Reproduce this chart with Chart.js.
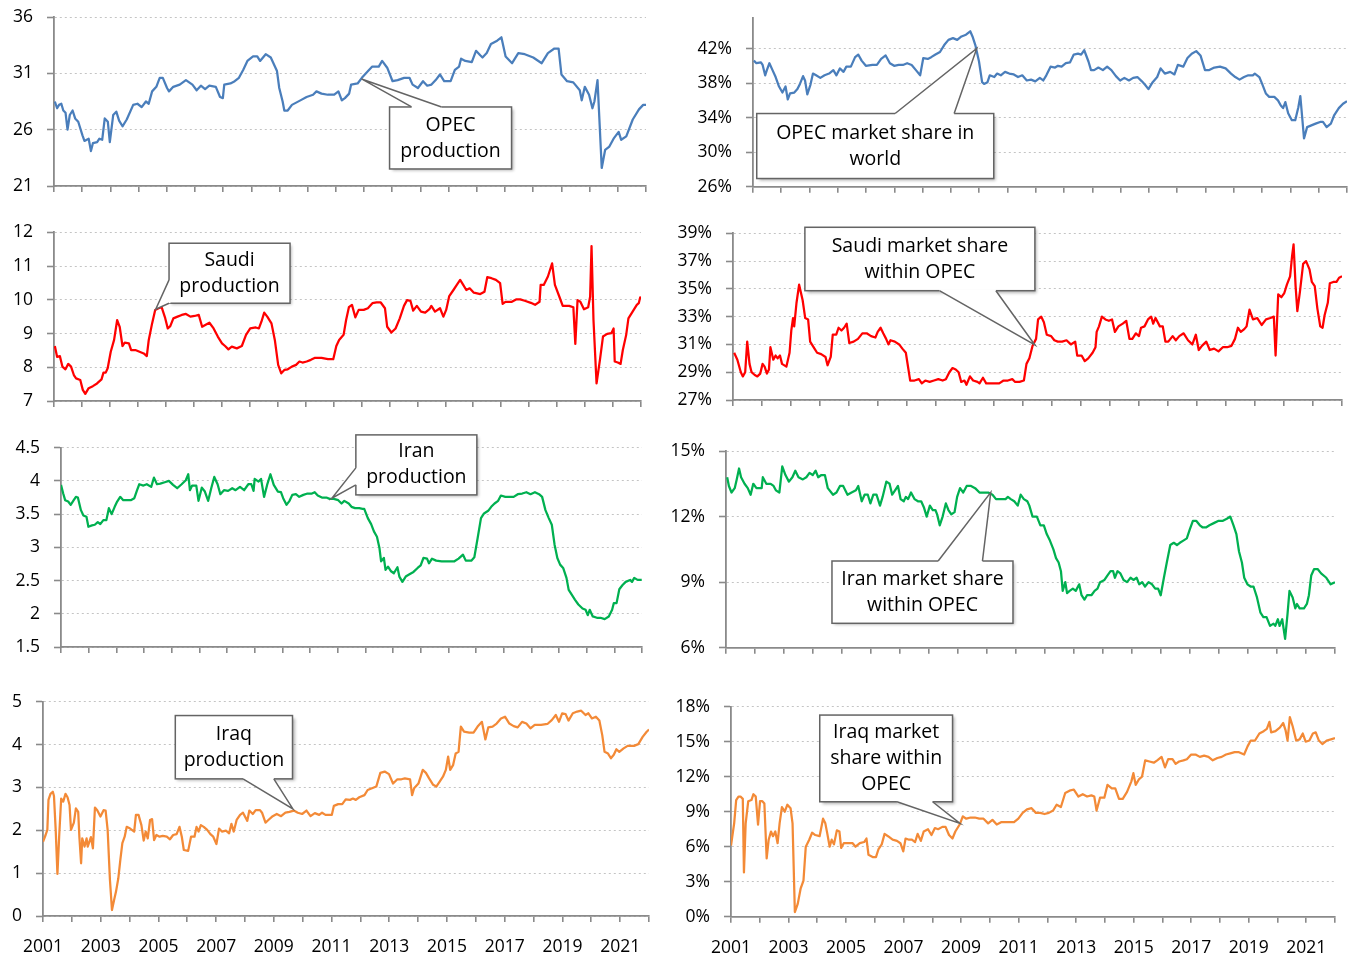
<!DOCTYPE html>
<html>
<head>
<meta charset="utf-8">
<script src="https://cdn.jsdelivr.net/npm/chart.js@4.4.0/dist/chart.umd.min.js"></script>
<style>
  html, body { margin: 0; padding: 0; background: #fff; }
  body { width: 1357px; height: 958px; position: relative; overflow: hidden; }
  canvas { position: absolute; }
</style>
</head>
<body>
<script>
// ---- shared axis data ----
const yearTicks = [2001, 2002, 2003, 2004, 2005, 2006, 2007, 2008, 2009, 2010, 2011,
  2012, 2013, 2014, 2015, 2016, 2017, 2018, 2019, 2020, 2021, 2022];
const xLabelYears = [2001, 2003, 2005, 2007, 2009, 2011, 2013, 2015, 2017, 2019, 2021];

// ---- OPEC production (mb/d) ----
const opecProdTicks = [21, 26, 31, 36];
const opecProdYears = [
  2001.03, 2001.11, 2001.18, 2001.26, 2001.33, 2001.41, 2001.48, 2001.56, 2001.66, 2001.75,
  2001.86, 2002.01, 2002.08, 2002.23, 2002.31, 2002.38, 2002.53, 2002.61, 2002.71, 2002.80,
  2002.91, 2002.98, 2003.10, 2003.21, 2003.31, 2003.43, 2003.58, 2003.81, 2003.96, 2004.11,
  2004.26, 2004.36, 2004.48, 2004.63, 2004.75, 2004.86, 2005.01, 2005.08, 2005.23, 2005.46,
  2005.68, 2005.91, 2006.06, 2006.21, 2006.36, 2006.51, 2006.74, 2006.89, 2006.99, 2007.04,
  2007.26, 2007.41, 2007.56, 2007.71, 2007.86, 2008.06, 2008.21, 2008.31, 2008.51, 2008.69,
  2008.91, 2008.99, 2009.11, 2009.17, 2009.29, 2009.44, 2009.74, 2009.96, 2010.19, 2010.31,
  2010.49, 2010.71, 2010.94, 2011.09, 2011.21, 2011.32, 2011.47, 2011.54, 2011.77, 2011.92,
  2012.14, 2012.29, 2012.52, 2012.64, 2012.82, 2013.01, 2013.19, 2013.42, 2013.61, 2013.72,
  2013.91, 2014.09, 2014.24, 2014.39, 2014.54, 2014.69, 2014.84, 2015.07, 2015.22, 2015.37,
  2015.44, 2015.59, 2015.82, 2015.97, 2016.12, 2016.20, 2016.35, 2016.50, 2016.72, 2016.87,
  2017.02, 2017.25, 2017.47, 2017.70, 2018.00, 2018.30, 2018.52, 2018.75, 2018.90, 2019.00,
  2019.20, 2019.42, 2019.65, 2019.72, 2019.83, 2019.98, 2020.10, 2020.17, 2020.28, 2020.43,
  2020.55, 2020.70, 2020.85, 2021.03, 2021.12, 2021.30, 2021.53, 2021.75, 2021.90, 2022.00];
const opecProdValues = [
  28.5, 27.9, 28.2, 28.3, 27.7, 27.5, 26.0, 27.3, 27.7, 27.0,
  26.7, 25.5, 25.0, 25.2, 24.1, 24.8, 24.9, 25.2, 25.1, 27.0,
  26.7, 24.9, 27.3, 27.6, 26.8, 26.3, 26.9, 28.2, 28.3, 28.0,
  28.5, 28.3, 29.4, 29.8, 30.6, 30.6, 29.7, 29.4, 29.8, 30.0,
  30.4, 30.0, 29.5, 29.9, 29.6, 29.9, 29.8, 28.9, 28.8, 30.0,
  30.1, 30.3, 30.6, 31.3, 32.1, 32.5, 32.5, 32.1, 32.7, 32.4,
  31.2, 29.7, 28.5, 27.7, 27.7, 28.2, 28.6, 28.9, 29.1, 29.4,
  29.2, 29.1, 29.1, 29.4, 28.6, 28.8, 29.2, 30.0, 30.1, 30.6,
  31.2, 31.6, 31.6, 32.1, 31.5, 30.3, 30.4, 30.6, 30.6, 30.0,
  29.7, 30.3, 29.9, 30.0, 30.4, 30.9, 30.3, 30.3, 31.3, 31.6,
  32.3, 32.1, 32.0, 33.0, 32.6, 32.4, 32.8, 33.6, 33.9, 34.2,
  32.5, 31.9, 32.8, 32.7, 32.4, 31.9, 32.8, 33.2, 33.2, 30.9,
  30.3, 30.2, 29.5, 28.6, 29.8, 29.1, 27.9, 28.5, 30.4, 22.6,
  24.2, 24.5, 25.2, 25.8, 25.1, 25.4, 26.9, 27.8, 28.2, 28.2];

// ---- OPEC market share in world (%) ----
const opecShareTicks = [26, 30, 34, 38, 42];
const opecShareYears = [
  2001.03, 2001.12, 2001.28, 2001.34, 2001.43, 2001.49, 2001.58, 2001.69, 2001.80, 2001.92,
  2002.04, 2002.15, 2002.23, 2002.31, 2002.46, 2002.57, 2002.66, 2002.77, 2002.84, 2002.92,
  2003.03, 2003.12, 2003.23, 2003.38, 2003.53, 2003.69, 2003.84, 2003.95, 2004.07, 2004.20,
  2004.30, 2004.46, 2004.61, 2004.72, 2004.84, 2004.99, 2005.22, 2005.38, 2005.53, 2005.69,
  2005.84, 2005.99, 2006.15, 2006.30, 2006.45, 2006.61, 2006.76, 2006.91, 2007.02, 2007.18,
  2007.30, 2007.45, 2007.61, 2007.76, 2007.91, 2008.07, 2008.22, 2008.37, 2008.53, 2008.68,
  2008.76, 2008.86, 2008.99, 2009.10, 2009.17, 2009.29, 2009.37, 2009.53, 2009.63, 2009.76,
  2009.91, 2010.06, 2010.22, 2010.37, 2010.52, 2010.68, 2010.83, 2010.98, 2011.14, 2011.26,
  2011.37, 2011.52, 2011.68, 2011.78, 2011.91, 2012.06, 2012.21, 2012.34, 2012.49, 2012.60,
  2012.71, 2012.86, 2012.95, 2013.06, 2013.21, 2013.37, 2013.52, 2013.67, 2013.83, 2013.98,
  2014.13, 2014.29, 2014.44, 2014.59, 2014.75, 2014.86, 2014.98, 2015.13, 2015.29, 2015.41,
  2015.56, 2015.75, 2015.90, 2016.02, 2016.21, 2016.36, 2016.51, 2016.67, 2016.82, 2016.98,
  2017.13, 2017.31, 2017.51, 2017.71, 2017.90, 2018.05, 2018.20, 2018.36, 2018.51, 2018.67,
  2018.74, 2018.90, 2019.00, 2019.13, 2019.25, 2019.43, 2019.56, 2019.66, 2019.74, 2019.82,
  2019.92, 2020.05, 2020.17, 2020.28, 2020.35, 2020.48, 2020.59, 2020.74, 2020.89, 2021.05,
  2021.15, 2021.28, 2021.43, 2021.55, 2021.71, 2021.86, 2022.00];
const opecShareValues = [
  40.6, 40.3, 40.4, 40.1, 38.9, 39.5, 40.3, 39.5, 38.7, 37.6,
  36.9, 37.6, 36.1, 36.8, 36.9, 37.3, 37.9, 38.8, 38.3, 36.7,
  37.8, 39.1, 38.9, 38.6, 38.9, 39.1, 39.5, 38.9, 39.7, 39.3,
  39.9, 39.9, 41.0, 41.3, 40.6, 40.0, 40.1, 40.1, 40.8, 41.2,
  40.3, 40.0, 40.1, 40.1, 40.3, 40.1, 39.5, 38.9, 40.9, 40.8,
  41.0, 41.3, 41.6, 42.4, 43.0, 43.2, 43.0, 43.4, 43.6, 44.0,
  43.4, 42.4, 40.5, 38.1, 37.9, 38.1, 38.9, 38.7, 39.1, 38.9,
  39.3, 39.1, 39.0, 38.7, 38.9, 38.3, 38.4, 38.2, 38.6, 38.3,
  38.9, 39.9, 39.8, 40.0, 39.9, 40.3, 40.4, 41.3, 41.4, 41.3,
  41.8, 40.5, 39.5, 39.5, 39.8, 39.5, 39.9, 39.5, 38.8, 38.3,
  38.6, 38.3, 38.6, 38.7, 38.2, 37.8, 37.3, 38.1, 38.7, 39.7,
  39.1, 39.3, 39.0, 40.1, 39.9, 40.9, 41.4, 41.7, 41.2, 39.5,
  39.5, 39.8, 39.9, 39.7, 39.1, 38.7, 38.4, 38.7, 38.9, 38.9,
  39.1, 38.7, 37.9, 36.8, 36.4, 36.4, 36.0, 35.4, 35.1, 35.8,
  34.5, 33.7, 33.7, 35.2, 36.5, 31.6, 32.9, 33.1, 33.3, 33.5,
  33.5, 32.9, 33.3, 34.3, 35.1, 35.6, 35.9];

// ---- Saudi production (mb/d) ----
const saudiProdTicks = [7, 8, 9, 10, 11, 12];
const saudiProdYears = [
  2001.03, 2001.11, 2001.21, 2001.30, 2001.41, 2001.51, 2001.61, 2001.71, 2001.79, 2001.94,
  2002.03, 2002.12, 2002.24, 2002.39, 2002.54, 2002.70, 2002.77, 2002.85, 2002.92, 2003.03,
  2003.15, 2003.26, 2003.35, 2003.45, 2003.53, 2003.68, 2003.76, 2003.91, 2004.06, 2004.21,
  2004.32, 2004.39, 2004.51, 2004.62, 2004.74, 2004.85, 2004.97, 2005.07, 2005.16, 2005.27,
  2005.42, 2005.57, 2005.72, 2005.88, 2006.03, 2006.18, 2006.30, 2006.41, 2006.56, 2006.71,
  2006.86, 2007.01, 2007.12, 2007.24, 2007.36, 2007.54, 2007.72, 2007.87, 2008.02, 2008.22,
  2008.33, 2008.42, 2008.52, 2008.63, 2008.78, 2008.90, 2009.02, 2009.13, 2009.24, 2009.36,
  2009.51, 2009.66, 2009.78, 2009.89, 2010.04, 2010.19, 2010.34, 2010.57, 2010.80, 2010.99,
  2011.10, 2011.20, 2011.36, 2011.45, 2011.55, 2011.66, 2011.78, 2011.90, 2012.08, 2012.23,
  2012.39, 2012.54, 2012.69, 2012.84, 2012.92, 2013.07, 2013.22, 2013.37, 2013.52, 2013.63,
  2013.75, 2013.85, 2013.98, 2014.13, 2014.28, 2014.43, 2014.50, 2014.63, 2014.81, 2014.93,
  2015.03, 2015.14, 2015.29, 2015.41, 2015.53, 2015.64, 2015.75, 2015.87, 2016.02, 2016.25,
  2016.40, 2016.50, 2016.65, 2016.81, 2016.96, 2017.05, 2017.15, 2017.38, 2017.53, 2017.68,
  2017.84, 2018.06, 2018.21, 2018.37, 2018.41, 2018.52, 2018.67, 2018.82, 2018.92, 2019.08,
  2019.20, 2019.43, 2019.58, 2019.65, 2019.73, 2019.83, 2019.96, 2020.11, 2020.18, 2020.23,
  2020.30, 2020.41, 2020.53, 2020.64, 2020.79, 2020.94, 2021.02, 2021.06, 2021.17, 2021.27,
  2021.35, 2021.47, 2021.55, 2021.70, 2021.85, 2021.92, 2021.97, 2022.00];
const saudiProdValues = [
  8.63, 8.31, 8.33, 8.02, 7.94, 8.10, 8.02, 7.77, 7.67, 7.62,
  7.33, 7.21, 7.38, 7.44, 7.52, 7.64, 7.84, 7.84, 7.97, 8.46,
  8.81, 9.40, 9.20, 8.63, 8.73, 8.71, 8.51, 8.51, 8.46, 8.41,
  8.33, 8.81, 9.30, 9.70, 9.75, 9.78, 9.48, 9.15, 9.22, 9.45,
  9.50, 9.55, 9.58, 9.50, 9.52, 9.55, 9.20, 9.25, 9.32, 9.15,
  8.91, 8.71, 8.63, 8.53, 8.61, 8.56, 8.63, 8.96, 9.15, 9.18,
  9.15, 9.35, 9.62, 9.50, 9.30, 8.81, 8.07, 7.82, 7.92, 7.94,
  8.02, 8.07, 8.17, 8.14, 8.17, 8.22, 8.28, 8.28, 8.24, 8.24,
  8.63, 8.81, 8.96, 9.40, 9.78, 9.85, 9.48, 9.70, 9.70, 9.75,
  9.90, 9.92, 9.92, 9.75, 9.20, 9.03, 9.15, 9.45, 9.82, 9.99,
  9.97, 9.68, 9.82, 9.65, 9.62, 9.72, 9.82, 9.65, 9.75, 9.50,
  9.70, 10.11, 10.29, 10.44, 10.59, 10.44, 10.29, 10.34, 10.21, 10.17,
  10.24, 10.67, 10.64, 10.59, 10.49, 9.88, 9.94, 9.94, 10.01, 10.01,
  9.97, 9.91, 9.85, 9.94, 10.44, 10.44, 10.69, 11.08, 10.44, 10.09,
  9.82, 9.82, 9.78, 8.69, 9.99, 9.94, 9.72, 9.78, 10.09, 11.59,
  9.40, 7.52, 8.21, 8.91, 8.99, 9.01, 9.15, 8.17, 8.14, 8.10,
  8.51, 8.96, 9.45, 9.65, 9.85, 9.90, 10.07, 10.01];

// ---- Saudi market share within OPEC (%) ----
const saudiShareTicks = [27, 29, 31, 33, 35, 37, 39];
const saudiShareYears = [
  2001.04, 2001.15, 2001.27, 2001.34, 2001.42, 2001.49, 2001.57, 2001.64, 2001.75, 2001.84,
  2001.94, 2002.02, 2002.09, 2002.17, 2002.24, 2002.29, 2002.39, 2002.47, 2002.54, 2002.62,
  2002.69, 2002.84, 2002.95, 2003.01, 2003.07, 2003.11, 2003.19, 2003.28, 2003.40, 2003.49,
  2003.59, 2003.66, 2003.81, 2003.90, 2004.04, 2004.19, 2004.26, 2004.37, 2004.44, 2004.56,
  2004.64, 2004.74, 2004.83, 2004.92, 2005.01, 2005.16, 2005.31, 2005.46, 2005.61, 2005.76,
  2005.91, 2005.99, 2006.09, 2006.18, 2006.28, 2006.36, 2006.43, 2006.58, 2006.73, 2006.84,
  2006.96, 2007.11, 2007.26, 2007.41, 2007.51, 2007.63, 2007.78, 2007.93, 2008.08, 2008.23,
  2008.34, 2008.46, 2008.57, 2008.68, 2008.78, 2008.87, 2008.98, 2009.05, 2009.17, 2009.28,
  2009.43, 2009.50, 2009.62, 2009.73, 2009.88, 2010.03, 2010.18, 2010.33, 2010.48, 2010.63,
  2010.73, 2010.88, 2011.03, 2011.12, 2011.22, 2011.33, 2011.45, 2011.52, 2011.63, 2011.72,
  2011.82, 2011.97, 2012.08, 2012.20, 2012.35, 2012.50, 2012.65, 2012.80, 2012.87, 2013.02,
  2013.13, 2013.25, 2013.40, 2013.50, 2013.54, 2013.62, 2013.72, 2013.84, 2013.96, 2014.07,
  2014.17, 2014.29, 2014.44, 2014.56, 2014.67, 2014.77, 2014.89, 2015.00, 2015.07, 2015.19,
  2015.31, 2015.42, 2015.49, 2015.57, 2015.72, 2015.82, 2015.91, 2016.01, 2016.16, 2016.27,
  2016.39, 2016.54, 2016.69, 2016.84, 2016.96, 2017.06, 2017.17, 2017.32, 2017.44, 2017.59,
  2017.74, 2017.89, 2018.04, 2018.19, 2018.31, 2018.41, 2018.51, 2018.63, 2018.71, 2018.81,
  2018.93, 2019.08, 2019.23, 2019.38, 2019.53, 2019.65, 2019.71, 2019.80, 2019.91, 2020.01,
  2020.10, 2020.21, 2020.28, 2020.33, 2020.40, 2020.46, 2020.55, 2020.66, 2020.76, 2020.88,
  2020.96, 2021.06, 2021.15, 2021.25, 2021.33, 2021.40, 2021.51, 2021.58, 2021.70, 2021.81,
  2021.90, 2022.00];
const saudiShareValues = [
  30.4, 29.9, 29.0, 28.7, 29.0, 31.2, 29.6, 29.0, 28.8, 28.7,
  28.9, 29.6, 29.4, 28.9, 29.2, 30.8, 29.9, 30.2, 30.0, 30.2,
  29.6, 29.4, 30.4, 32.0, 32.9, 32.3, 34.0, 35.3, 34.2, 32.9,
  32.8, 31.2, 30.7, 30.4, 30.3, 30.1, 29.5, 30.1, 31.7, 31.7,
  32.2, 32.0, 32.2, 32.5, 31.1, 31.2, 31.4, 31.8, 31.8, 31.6,
  31.5, 31.9, 32.2, 31.8, 31.4, 31.0, 31.3, 31.2, 31.0, 30.7,
  30.4, 28.4, 28.4, 28.5, 28.2, 28.4, 28.3, 28.4, 28.5, 28.4,
  28.5, 29.0, 29.3, 29.2, 29.0, 28.3, 28.4, 28.1, 28.7, 28.4,
  28.3, 28.2, 28.6, 28.2, 28.2, 28.2, 28.2, 28.4, 28.4, 28.5,
  28.3, 28.3, 28.4, 29.6, 30.0, 30.9, 31.4, 32.8, 33.0, 32.6,
  31.7, 31.6, 31.3, 31.2, 31.2, 31.3, 31.0, 31.2, 30.2, 30.2,
  29.8, 30.0, 30.4, 30.8, 31.9, 32.3, 33.0, 32.8, 32.7, 32.8,
  31.9, 32.3, 32.5, 32.7, 31.4, 31.4, 31.8, 31.6, 32.2, 32.3,
  32.8, 33.0, 32.5, 32.9, 32.3, 32.3, 31.2, 31.2, 31.6, 31.3,
  31.6, 31.8, 31.3, 31.0, 31.7, 30.6, 30.9, 31.2, 30.6, 30.7,
  30.5, 30.8, 30.8, 30.9, 31.4, 32.2, 31.9, 32.1, 32.3, 33.5,
  32.8, 32.9, 32.4, 32.8, 32.9, 33.0, 30.2, 34.6, 34.4, 34.7,
  35.3, 35.9, 37.4, 38.2, 35.2, 33.4, 34.8, 36.8, 37.0, 36.4,
  35.5, 35.2, 33.6, 32.3, 32.2, 33.1, 34.0, 35.4, 35.5, 35.5,
  35.8, 35.9];

// ---- Iran production (mb/d) ----
const iranProdTicks = [1.5, 2, 2.5, 3, 3.5, 4, 4.5];
const iranProdYears = [
  2001.00, 2001.08, 2001.15, 2001.26, 2001.35, 2001.46, 2001.54, 2001.61, 2001.72, 2001.81,
  2001.92, 2001.99, 2002.12, 2002.22, 2002.33, 2002.42, 2002.53, 2002.64, 2002.73, 2002.83,
  2002.94, 2003.03, 2003.14, 2003.25, 2003.37, 2003.52, 2003.65, 2003.75, 2003.83, 2003.98,
  2004.10, 2004.26, 2004.36, 2004.47, 2004.59, 2004.75, 2004.90, 2005.05, 2005.20, 2005.36,
  2005.51, 2005.60, 2005.66, 2005.74, 2005.89, 2005.97, 2006.09, 2006.20, 2006.32, 2006.43,
  2006.54, 2006.66, 2006.76, 2006.89, 2007.04, 2007.19, 2007.31, 2007.47, 2007.62, 2007.77,
  2007.88, 2007.96, 2008.00, 2008.14, 2008.23, 2008.34, 2008.45, 2008.57, 2008.69, 2008.84,
  2008.95, 2009.03, 2009.15, 2009.26, 2009.36, 2009.49, 2009.61, 2009.76, 2009.91, 2010.07,
  2010.17, 2010.28, 2010.43, 2010.59, 2010.71, 2010.86, 2011.02, 2011.14, 2011.24, 2011.40,
  2011.50, 2011.63, 2011.78, 2011.90, 2011.96, 2012.09, 2012.21, 2012.31, 2012.42, 2012.51,
  2012.57, 2012.67, 2012.73, 2012.82, 2012.93, 2013.03, 2013.16, 2013.23, 2013.34, 2013.46,
  2013.58, 2013.74, 2013.89, 2014.00, 2014.10, 2014.23, 2014.30, 2014.41, 2014.56, 2014.76,
  2014.99, 2015.22, 2015.37, 2015.53, 2015.63, 2015.83, 2015.94, 2016.06, 2016.18, 2016.29,
  2016.44, 2016.55, 2016.67, 2016.80, 2016.90, 2017.06, 2017.21, 2017.36, 2017.51, 2017.67,
  2017.82, 2017.97, 2018.13, 2018.28, 2018.39, 2018.51, 2018.63, 2018.74, 2018.84, 2018.94,
  2019.04, 2019.15, 2019.27, 2019.35, 2019.46, 2019.58, 2019.70, 2019.85, 2019.96, 2020.04,
  2020.11, 2020.22, 2020.37, 2020.50, 2020.65, 2020.80, 2020.92, 2020.98, 2021.08, 2021.18,
  2021.29, 2021.41, 2021.57, 2021.64, 2021.72, 2021.84, 2021.99];
const iranProdValues = [
  3.94, 3.81, 3.71, 3.69, 3.64, 3.71, 3.76, 3.75, 3.56, 3.48,
  3.46, 3.31, 3.33, 3.34, 3.38, 3.35, 3.41, 3.41, 3.59, 3.50,
  3.61, 3.69, 3.76, 3.71, 3.71, 3.71, 3.74, 3.86, 3.95, 3.93,
  3.95, 3.91, 4.05, 3.95, 3.96, 3.98, 4.00, 3.94, 3.89, 3.95,
  4.01, 4.10, 3.86, 3.93, 3.93, 3.70, 3.90, 3.84, 3.70, 3.89,
  4.06, 3.95, 3.80, 3.86, 3.85, 3.89, 3.86, 3.91, 3.86, 3.95,
  3.95, 3.85, 4.03, 3.99, 4.03, 3.76, 3.94, 4.10, 3.94, 3.84,
  3.83, 3.74, 3.64, 3.70, 3.79, 3.80, 3.76, 3.79, 3.81, 3.81,
  3.83, 3.78, 3.75, 3.75, 3.73, 3.73, 3.71, 3.66, 3.70, 3.66,
  3.61, 3.59, 3.59, 3.58, 3.58, 3.44, 3.35, 3.24, 3.16, 2.99,
  2.79, 2.84, 2.66, 2.71, 2.64, 2.61, 2.70, 2.56, 2.48, 2.56,
  2.59, 2.63, 2.69, 2.73, 2.84, 2.83, 2.76, 2.83, 2.80, 2.79,
  2.79, 2.79, 2.83, 2.89, 2.80, 2.80, 2.85, 3.14, 3.44, 3.51,
  3.55, 3.61, 3.66, 3.70, 3.78, 3.76, 3.76, 3.76, 3.80, 3.81,
  3.83, 3.80, 3.83, 3.80, 3.76, 3.56, 3.44, 3.34, 3.04, 2.84,
  2.74, 2.69, 2.54, 2.36, 2.29, 2.21, 2.14, 2.08, 2.06, 1.98,
  2.06, 1.96, 1.94, 1.94, 1.92, 1.96, 2.06, 2.16, 2.16, 2.37,
  2.43, 2.48, 2.51, 2.48, 2.54, 2.51, 2.51];

// ---- Iran market share within OPEC (%) ----
const iranShareTicks = [6, 9, 12, 15];
const iranShareYears = [
  2001.04, 2001.10, 2001.19, 2001.30, 2001.37, 2001.45, 2001.52, 2001.64, 2001.75, 2001.85,
  2001.94, 2002.05, 2002.12, 2002.23, 2002.27, 2002.39, 2002.54, 2002.64, 2002.72, 2002.84,
  2002.94, 2003.05, 2003.17, 2003.29, 2003.39, 2003.50, 2003.65, 2003.77, 2003.88, 2003.99,
  2004.09, 2004.18, 2004.29, 2004.41, 2004.51, 2004.63, 2004.69, 2004.81, 2004.93, 2005.04,
  2005.19, 2005.33, 2005.48, 2005.56, 2005.68, 2005.78, 2005.89, 2005.98, 2006.08, 2006.19,
  2006.31, 2006.40, 2006.53, 2006.64, 2006.73, 2006.83, 2006.93, 2007.02, 2007.13, 2007.20,
  2007.28, 2007.38, 2007.50, 2007.62, 2007.73, 2007.83, 2007.92, 2008.03, 2008.13, 2008.22,
  2008.28, 2008.37, 2008.47, 2008.58, 2008.67, 2008.77, 2008.88, 2008.97, 2009.07, 2009.18,
  2009.30, 2009.45, 2009.59, 2009.74, 2009.89, 2010.04, 2010.19, 2010.31, 2010.42, 2010.52,
  2010.64, 2010.72, 2010.82, 2010.94, 2011.06, 2011.16, 2011.27, 2011.39, 2011.46, 2011.57,
  2011.72, 2011.84, 2011.96, 2012.06, 2012.17, 2012.29, 2012.38, 2012.47, 2012.55, 2012.61,
  2012.70, 2012.76, 2012.85, 2012.96, 2013.06, 2013.18, 2013.26, 2013.36, 2013.45, 2013.60,
  2013.71, 2013.81, 2013.90, 2014.05, 2014.15, 2014.26, 2014.35, 2014.41, 2014.50, 2014.60,
  2014.71, 2014.83, 2014.95, 2015.05, 2015.16, 2015.25, 2015.35, 2015.45, 2015.57, 2015.69,
  2015.80, 2015.90, 2015.99, 2016.10, 2016.20, 2016.32, 2016.44, 2016.55, 2016.65, 2016.77,
  2016.89, 2016.99, 2017.10, 2017.22, 2017.34, 2017.44, 2017.55, 2017.67, 2017.82, 2017.97,
  2018.12, 2018.27, 2018.39, 2018.50, 2018.60, 2018.69, 2018.79, 2018.87, 2018.98, 2019.09,
  2019.19, 2019.31, 2019.43, 2019.53, 2019.64, 2019.76, 2019.88, 2019.94, 2020.03, 2020.09,
  2020.18, 2020.28, 2020.36, 2020.43, 2020.54, 2020.63, 2020.69, 2020.78, 2020.93, 2021.03,
  2021.10, 2021.18, 2021.28, 2021.40, 2021.52, 2021.70, 2021.85, 2022.00];
const iranShareValues = [
  13.8, 13.4, 13.1, 13.3, 13.7, 14.2, 13.8, 13.5, 13.3, 13.0,
  13.5, 13.3, 13.3, 13.3, 13.8, 13.5, 13.5, 13.4, 13.2, 13.1,
  14.3, 13.9, 13.6, 13.8, 14.1, 13.8, 13.7, 13.8, 14.0, 13.9,
  14.1, 13.8, 13.9, 13.9, 13.3, 13.1, 13.0, 13.1, 13.4, 13.4,
  13.0, 13.1, 13.2, 13.4, 12.7, 13.0, 13.0, 12.6, 13.0, 13.0,
  12.5, 12.9, 13.6, 13.5, 13.0, 13.2, 13.4, 12.8, 12.7, 12.9,
  12.8, 13.1, 12.8, 12.7, 12.7, 12.4, 12.0, 12.5, 12.3, 12.3,
  12.1, 11.6, 12.0, 12.6, 12.3, 12.1, 12.2, 12.9, 13.3, 13.1,
  13.4, 13.4, 13.3, 13.1, 13.1, 13.1, 13.0, 12.8, 12.8, 12.8,
  12.8, 12.9, 12.8, 12.7, 12.5, 13.0, 12.8, 12.7, 12.5, 12.0,
  12.0, 11.6, 11.6, 11.2, 10.9, 10.5, 10.1, 9.9, 9.5, 8.6,
  9.0, 8.5, 8.6, 8.7, 8.6, 8.9, 8.4, 8.2, 8.4, 8.4,
  8.6, 8.7, 9.0, 9.1, 9.3, 9.5, 9.5, 9.2, 9.5, 9.4,
  9.1, 9.0, 9.2, 9.1, 9.2, 8.9, 9.0, 8.8, 9.0, 8.9,
  8.7, 8.7, 8.4, 9.2, 9.9, 10.7, 10.8, 10.7, 10.8, 10.9,
  11.0, 11.4, 11.8, 11.8, 11.6, 11.5, 11.5, 11.6, 11.7, 11.8,
  11.8, 11.9, 12.0, 11.6, 11.2, 10.4, 9.9, 9.2, 8.9, 8.8,
  8.8, 8.3, 7.6, 7.4, 7.4, 7.0, 7.1, 7.0, 7.3, 7.0,
  7.3, 6.4, 7.5, 8.6, 8.3, 7.8, 8.0, 7.8, 7.8, 8.0,
  8.4, 9.3, 9.6, 9.6, 9.4, 9.2, 8.9, 9.0];

// ---- Iraq production (mb/d) ----
const iraqProdTicks = [0, 1, 2, 3, 4, 5];
const iraqProdYears = [
  2001.00, 2001.09, 2001.15, 2001.19, 2001.26, 2001.34, 2001.38, 2001.44, 2001.50, 2001.56,
  2001.63, 2001.70, 2001.78, 2001.85, 2001.92, 2001.97, 2002.07, 2002.14, 2002.22, 2002.26,
  2002.32, 2002.36, 2002.44, 2002.51, 2002.55, 2002.66, 2002.73, 2002.80, 2002.88, 2002.99,
  2003.10, 2003.17, 2003.24, 2003.32, 2003.39, 2003.46, 2003.53, 2003.61, 2003.68, 2003.75,
  2003.83, 2003.90, 2004.02, 2004.16, 2004.22, 2004.31, 2004.41, 2004.49, 2004.56, 2004.63,
  2004.71, 2004.78, 2004.85, 2004.93, 2005.04, 2005.15, 2005.29, 2005.40, 2005.51, 2005.63,
  2005.73, 2005.81, 2005.88, 2006.03, 2006.13, 2006.25, 2006.32, 2006.39, 2006.47, 2006.57,
  2006.69, 2006.80, 2006.90, 2007.01, 2007.10, 2007.20, 2007.34, 2007.45, 2007.53, 2007.61,
  2007.71, 2007.83, 2007.93, 2008.08, 2008.15, 2008.27, 2008.37, 2008.52, 2008.59, 2008.71,
  2008.81, 2008.96, 2009.10, 2009.25, 2009.40, 2009.54, 2009.69, 2009.83, 2009.98, 2010.13,
  2010.27, 2010.42, 2010.57, 2010.67, 2010.79, 2011.01, 2011.08, 2011.23, 2011.37, 2011.49,
  2011.64, 2011.74, 2011.84, 2011.96, 2012.14, 2012.25, 2012.40, 2012.55, 2012.69, 2012.84,
  2012.99, 2013.13, 2013.28, 2013.42, 2013.54, 2013.72, 2013.79, 2013.86, 2014.01, 2014.16,
  2014.27, 2014.38, 2014.52, 2014.63, 2014.74, 2014.86, 2014.96, 2015.04, 2015.11, 2015.21,
  2015.30, 2015.40, 2015.48, 2015.59, 2015.77, 2015.92, 2016.06, 2016.21, 2016.33, 2016.43,
  2016.58, 2016.72, 2016.87, 2017.01, 2017.16, 2017.31, 2017.45, 2017.60, 2017.75, 2017.89,
  2018.04, 2018.26, 2018.48, 2018.63, 2018.77, 2018.88, 2018.99, 2019.11, 2019.21, 2019.36,
  2019.51, 2019.65, 2019.80, 2019.90, 2020.02, 2020.16, 2020.28, 2020.38, 2020.46, 2020.58,
  2020.68, 2020.78, 2020.87, 2020.97, 2021.12, 2021.26, 2021.48, 2021.63, 2021.78, 2021.92,
  2022.00];
const iraqProdValues = [
  1.73, 1.89, 2.01, 2.71, 2.85, 2.90, 2.80, 2.01, 0.98, 1.85,
  2.74, 2.67, 2.85, 2.77, 2.59, 2.01, 2.18, 2.51, 2.43, 1.85,
  1.23, 1.81, 1.62, 1.81, 1.62, 1.84, 1.58, 2.53, 2.47, 2.32,
  2.47, 2.46, 2.01, 0.84, 0.14, 0.36, 0.57, 0.88, 1.31, 1.70,
  1.85, 2.08, 2.04, 1.97, 2.36, 2.36, 2.12, 1.76, 1.97, 1.81,
  2.24, 2.26, 1.77, 1.89, 1.85, 1.87, 1.85, 1.79, 1.89, 1.91,
  2.08, 1.85, 1.54, 1.52, 1.85, 1.85, 2.08, 1.97, 2.12, 2.08,
  2.01, 1.91, 1.85, 1.68, 2.04, 1.97, 1.99, 1.93, 2.15, 1.97,
  2.24, 2.36, 2.41, 2.22, 2.46, 2.38, 2.47, 2.47, 2.41, 2.18,
  2.24, 2.33, 2.38, 2.33, 2.41, 2.43, 2.46, 2.41, 2.38, 2.46,
  2.33, 2.40, 2.36, 2.41, 2.36, 2.36, 2.57, 2.61, 2.61, 2.72,
  2.71, 2.74, 2.71, 2.77, 2.82, 2.94, 2.98, 3.02, 3.34, 3.37,
  3.31, 3.09, 3.19, 3.19, 3.21, 3.19, 2.82, 2.98, 3.09, 3.41,
  3.34, 3.21, 3.06, 3.02, 3.13, 3.25, 3.41, 3.72, 3.41, 3.52,
  3.79, 3.83, 4.42, 4.30, 4.28, 4.28, 4.42, 4.53, 4.12, 4.40,
  4.42, 4.49, 4.61, 4.65, 4.49, 4.43, 4.40, 4.53, 4.49, 4.38,
  4.46, 4.46, 4.48, 4.57, 4.69, 4.53, 4.73, 4.71, 4.56, 4.73,
  4.77, 4.79, 4.69, 4.73, 4.61, 4.65, 4.56, 4.22, 3.83, 3.79,
  3.68, 3.76, 3.89, 3.83, 3.91, 3.97, 3.97, 4.01, 4.18, 4.30,
  4.35];

// ---- Iraq market share within OPEC (%) ----
const iraqShareTicks = [0, 3, 6, 9, 12, 15, 18];
const iraqShareYears = [
  2001.00, 2001.11, 2001.18, 2001.26, 2001.33, 2001.41, 2001.45, 2001.51, 2001.60, 2001.71,
  2001.78, 2001.86, 2001.94, 2002.01, 2002.09, 2002.16, 2002.24, 2002.31, 2002.39, 2002.46,
  2002.54, 2002.62, 2002.69, 2002.77, 2002.87, 2002.96, 2003.07, 2003.14, 2003.22, 2003.32,
  2003.42, 2003.52, 2003.60, 2003.72, 2003.82, 2003.93, 2004.08, 2004.20, 2004.28, 2004.35,
  2004.43, 2004.50, 2004.58, 2004.68, 2004.77, 2004.83, 2004.92, 2005.08, 2005.23, 2005.33,
  2005.48, 2005.63, 2005.71, 2005.78, 2005.94, 2006.04, 2006.13, 2006.24, 2006.34, 2006.46,
  2006.62, 2006.77, 2006.89, 2006.99, 2007.07, 2007.19, 2007.29, 2007.40, 2007.49, 2007.60,
  2007.70, 2007.85, 2007.97, 2008.09, 2008.20, 2008.35, 2008.46, 2008.58, 2008.70, 2008.80,
  2008.95, 2009.06, 2009.18, 2009.33, 2009.48, 2009.63, 2009.78, 2009.94, 2010.09, 2010.24,
  2010.39, 2010.54, 2010.69, 2010.84, 2010.99, 2011.14, 2011.29, 2011.45, 2011.60, 2011.75,
  2011.90, 2012.05, 2012.20, 2012.32, 2012.47, 2012.62, 2012.77, 2012.92, 2013.08, 2013.23,
  2013.38, 2013.53, 2013.63, 2013.71, 2013.83, 2013.98, 2014.09, 2014.24, 2014.36, 2014.49,
  2014.62, 2014.77, 2014.92, 2014.99, 2015.07, 2015.19, 2015.29, 2015.40, 2015.55, 2015.70,
  2015.82, 2015.97, 2016.09, 2016.20, 2016.35, 2016.46, 2016.58, 2016.73, 2016.85, 2017.00,
  2017.15, 2017.30, 2017.45, 2017.60, 2017.75, 2017.91, 2018.06, 2018.21, 2018.36, 2018.51,
  2018.66, 2018.84, 2018.96, 2019.07, 2019.22, 2019.37, 2019.52, 2019.63, 2019.72, 2019.78,
  2019.93, 2020.08, 2020.20, 2020.28, 2020.35, 2020.43, 2020.53, 2020.65, 2020.77, 2020.88,
  2020.98, 2021.11, 2021.23, 2021.33, 2021.44, 2021.56, 2021.71, 2021.86, 2022.00];
const iraqShareValues = [
  6.1, 8.0, 10.0, 10.3, 10.3, 10.1, 3.8, 8.0, 9.9, 10.0,
  10.5, 10.3, 7.9, 9.9, 9.9, 9.7, 5.0, 6.6, 7.3, 6.9,
  7.3, 6.3, 8.0, 9.4, 9.0, 9.6, 9.3, 8.0, 0.4, 1.1,
  2.4, 3.1, 6.0, 6.6, 7.2, 7.0, 6.9, 8.4, 8.0, 7.1,
  6.0, 6.6, 6.2, 7.4, 7.3, 5.9, 6.3, 6.3, 6.3, 6.0,
  6.3, 6.4, 6.7, 5.3, 5.1, 5.1, 5.8, 6.2, 7.1, 6.9,
  6.6, 6.5, 6.3, 5.6, 6.7, 6.6, 6.6, 6.4, 7.1, 6.5,
  7.3, 7.5, 7.0, 7.6, 7.5, 7.7, 7.7, 7.0, 6.7, 7.3,
  7.9, 8.6, 8.4, 8.5, 8.5, 8.4, 8.4, 8.0, 8.3, 7.9,
  8.1, 8.1, 8.1, 8.1, 8.4, 8.9, 9.2, 9.3, 8.9, 8.9,
  8.8, 8.9, 9.1, 9.6, 9.4, 10.6, 10.8, 10.9, 10.3, 10.5,
  10.3, 10.4, 10.3, 9.1, 10.2, 10.2, 11.3, 11.0, 11.0, 10.1,
  10.1, 10.7, 11.6, 12.3, 11.3, 11.8, 12.0, 13.4, 13.3, 13.2,
  13.4, 13.7, 12.8, 13.5, 13.5, 13.1, 13.3, 13.4, 13.5, 13.9,
  13.9, 13.7, 13.8, 13.7, 13.4, 13.6, 13.7, 13.9, 14.0, 14.1,
  14.1, 13.9, 14.6, 15.1, 15.1, 15.7, 15.9, 16.1, 16.7, 15.8,
  15.9, 16.2, 16.6, 16.0, 15.1, 17.1, 16.3, 15.1, 15.2, 15.7,
  15.0, 15.1, 15.7, 15.8, 15.1, 14.8, 15.1, 15.2, 15.3];

// ---- styling ----
Chart.defaults.font.family = "'Open Sans', 'DejaVu Sans', sans-serif";
Chart.defaults.font.size = 17.5;
Chart.defaults.color = '#000';

const BLUE = '#4a7ebb';
const RED = '#ff0000';
const GREEN = '#00b050';
const ORANGE = '#f38a37';
const AXIS = '#8a8a8a';

// callout box with a wedge pointing at a point on the line
const calloutPlugin = {
  id: 'callout',
  afterDraw(chart, args, opts) {
    if (!opts || !opts.lines) return;
    const ctx = chart.ctx;
    const tx = chart.scales.x.getPixelForValue(opts.tip[0]);
    const ty = chart.scales.y.getPixelForValue(opts.tip[1]);
    const [bx, by, bw, bh] = opts.box;
    const b1 = [tx + opts.base[0][0], ty + opts.base[0][1]];
    const b2 = [tx + opts.base[1][0], ty + opts.base[1][1]];
    const edge = '#646464';
    ctx.save();
    ctx.shadowColor = 'rgba(0,0,0,0.3)';
    ctx.shadowBlur = 3;
    ctx.shadowOffsetX = 2;
    ctx.shadowOffsetY = 2;
    ctx.fillStyle = '#fff';
    ctx.fillRect(tx + bx, ty + by, bw, bh);
    ctx.shadowColor = 'transparent';
    ctx.strokeStyle = edge;
    ctx.lineWidth = 1.5;
    ctx.strokeRect(tx + bx, ty + by, bw, bh);
    // open the border where the wedge joins
    ctx.beginPath();
    ctx.moveTo(b1[0], b1[1]);
    ctx.lineTo(tx, ty);
    ctx.lineTo(b2[0], b2[1]);
    ctx.closePath();
    ctx.fill();
    ctx.strokeStyle = '#fff';
    ctx.lineWidth = 2.8;
    ctx.beginPath();
    ctx.moveTo(b1[0], b1[1]);
    ctx.lineTo(b2[0], b2[1]);
    ctx.stroke();
    ctx.strokeStyle = edge;
    ctx.lineWidth = 1.5;
    ctx.beginPath();
    ctx.moveTo(b1[0], b1[1]);
    ctx.lineTo(tx, ty);
    ctx.lineTo(b2[0], b2[1]);
    ctx.stroke();
    // text
    ctx.fillStyle = '#000';
    ctx.font = "19.5px 'Open Sans', 'DejaVu Sans', sans-serif";
    ctx.textAlign = 'center';
    ctx.textBaseline = 'middle';
    const lh = 26;
    const cx = tx + bx + bw / 2;
    const cy = ty + by + bh / 2 - (opts.lines.length - 1) * lh / 2;
    opts.lines.forEach((t, i) => ctx.fillText(t, cx, cy + i * lh));
    ctx.restore();
  }
};

// stop tick-label overflow from pushing the plot area around
function noLabelPadding(axis) {
  axis.paddingTop = 0;
  axis.paddingBottom = 0;
  axis.paddingLeft = 0;
  axis.paddingRight = 0;
}

// panel layout: canvas rect [left, top, width, height], plot rect [left, right, top, bottom]
const panels = [
  { box: [0, 0, 665, 200], plot: [54, 646, 17, 186], years: opecProdYears, values: opecProdValues,
    ticks: opecProdTicks, min: 21, max: 36, unit: '', color: BLUE, xLabels: false,
    callout: { tip: [2011.91, 30.5], box: [28, 28, 122, 62], base: [[50, 28], [80, 28]], lines: ['OPEC', 'production'] } },
  { box: [640, 0, 717, 200], plot: [753, 1347, 18.3, 186.7], years: opecShareYears, values: opecShareValues,
    ticks: opecShareTicks, min: 26, max: 45.5, unit: '%', color: BLUE, xLabels: false,
    callout: { tip: [2008.91, 42.0], box: [-220, 65, 237, 65], base: [[-81.6, 65], [-22.6, 65]], lines: ['OPEC market share in', 'world'] } },
  { box: [0, 215, 665, 205], plot: [54, 641, 232.3, 401], years: saudiProdYears, values: saudiProdValues,
    ticks: saudiProdTicks, min: 7, max: 12, unit: '', color: RED, xLabels: false,
    callout: { tip: [2004.64, 9.72], box: [13.3, -66, 121, 60], base: [[13.3, -29.3], [13.3, -6]], lines: ['Saudi', 'production'] } },
  { box: [640, 215, 717, 205], plot: [733, 1342, 233.3, 400], years: saudiShareYears, values: saudiShareValues,
    ticks: saudiShareTicks, min: 27, max: 39, unit: '%', color: RED, xLabels: false,
    callout: { tip: [2011.41, 30.96], box: [-230, -117.7, 230, 63.4], base: [[-95.5, -54.3], [-39, -54.3]], lines: ['Saudi market share', 'within OPEC'] } },
  { box: [0, 428, 665, 232], plot: [61, 642, 447.7, 647], years: iranProdYears, values: iranProdValues,
    ticks: iranProdTicks, min: 1.5, max: 4.5, unit: '', color: GREEN, xLabels: false,
    callout: { tip: [2010.79, 3.74], box: [24, -63.3, 121, 60], base: [[24, -30.3], [24, -13.3]], lines: ['Iran', 'production'] } },
  { box: [640, 428, 717, 232], plot: [726, 1335, 451, 647.7], years: iranShareYears, values: iranShareValues,
    ticks: iranShareTicks, min: 6, max: 15, unit: '%', color: GREEN, xLabels: false,
    callout: { tip: [2010.13, 13.11], box: [-158.8, 68.7, 181, 62.3], base: [[-52.6, 68.7], [-8.3, 68.7]], lines: ['Iran market share', 'within OPEC'] } },
  { box: [0, 690, 665, 268], plot: [43, 649, 701.7, 916], years: iraqProdYears, values: iraqProdValues,
    ticks: iraqProdTicks, min: 0, max: 5, unit: '', color: ORANGE, xLabels: true,
    callout: { tip: [2009.66, 2.5], box: [-117.6, -93.3, 117.2, 63.3], base: [[-49.9, -30], [-19.1, -30]], lines: ['Iraq', 'production'] } },
  { box: [640, 690, 717, 268], plot: [731, 1335, 706.7, 916.7], years: iraqShareYears, values: iraqShareValues,
    ticks: iraqShareTicks, min: 0, max: 18, unit: '%', color: ORANGE, xLabels: true,
    callout: { tip: [2008.96, 8.0], box: [-140.2, -108.3, 132.8, 86.7], base: [[-63, -21.6], [-27.4, -21.6]], lines: ['Iraq market', 'share within', 'OPEC'] } }
];

panels.forEach(p => {
  const [cl, ct, cw, ch] = p.box;
  const [pl, pr, pt, pb] = p.plot;
  const canvas = document.createElement('canvas');
  canvas.width = cw;
  canvas.height = ch;
  canvas.style.left = cl + 'px';
  canvas.style.top = ct + 'px';
  document.body.appendChild(canvas);

  new Chart(canvas.getContext('2d'), {
    type: 'line',
    data: {
      datasets: [{
        data: p.years.map((x, i) => ({ x: x, y: p.values[i] })),
        borderColor: p.color,
        borderWidth: 2.25,
        pointRadius: 0,
        tension: 0,
        fill: false,
        borderJoinStyle: 'round'
      }]
    },
    options: {
      responsive: false,
      animation: false,
      events: [],
      layout: {
        autoPadding: false,
        padding: { left: 0, top: pt - ct, right: cl + cw - pr, bottom: 0 }
      },
      plugins: {
        legend: { display: false },
        tooltip: { enabled: false },
        callout: p.callout
      },
      scales: {
        x: {
          type: 'linear',
          min: 2001,
          max: 2022,
          afterBuildTicks: axis => { axis.ticks = yearTicks.map(v => ({ value: v })); },
          afterFit: axis => { axis.height = ct + ch - pb; noLabelPadding(axis); },
          grid: { drawOnChartArea: false, drawTicks: true, tickLength: 6, color: AXIS, tickColor: AXIS, tickWidth: 1.6, lineWidth: 1.6 },
          border: { color: AXIS, width: 1.8 },
          ticks: {
            autoSkip: false,
            maxRotation: 0,
            minRotation: 0,
            padding: 15,
            callback: v => (p.xLabels && xLabelYears.includes(v)) ? String(v) : ''
          }
        },
        y: {
          min: p.min,
          max: p.max,
          afterBuildTicks: axis => { axis.ticks = p.ticks.map(v => ({ value: v })); },
          afterFit: axis => { axis.width = pl - cl; noLabelPadding(axis); },
          grid: { drawTicks: true, tickLength: 7, tickColor: AXIS, tickWidth: 1.6, tickBorderDash: [], color: '#c4c4c4', lineWidth: 1 },
          border: { color: AXIS, width: 1.8, dash: [2, 3] },
          ticks: {
            padding: 14,
            callback: v => v + p.unit
          }
        }
      }
    },
    plugins: [calloutPlugin]
  });
});
</script>
</body>
</html>
